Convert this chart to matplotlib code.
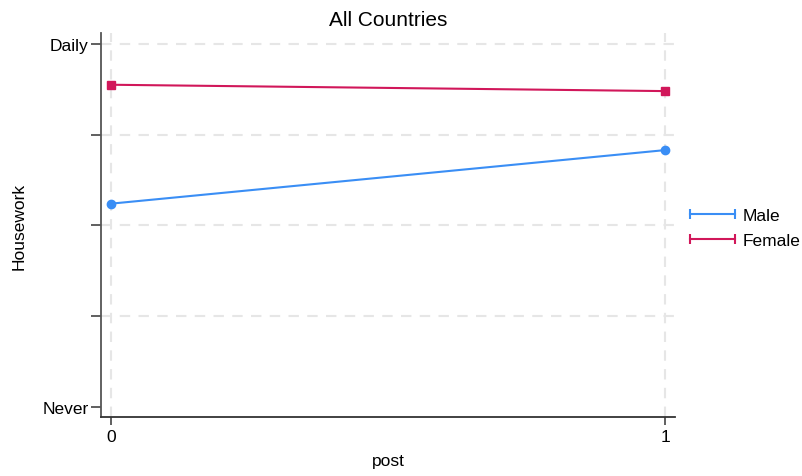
import matplotlib
matplotlib.use("Agg")
import matplotlib.pyplot as plt
from matplotlib.lines import Line2D

plt.rcParams['font.family'] = ['Liberation Sans', 'DejaVu Sans']

post = [0, 1]
male = [3.24, 3.83]
female = [4.55, 4.48]
male_ci = [0.02, 0.02]
female_ci = [0.02, 0.02]
series_names = ["Male", "Female"]
ytick_vals = [1, 2, 3, 4, 5]
ytick_labels = ["Never", "", "", "", "Daily"]
xtick_vals = [0, 1]

c_male = "#3a8ef5"
c_female = "#d1175a"

fig = plt.figure(figsize=(8.03, 4.77), dpi=100)
ax = fig.add_axes([101/803, 1-418/477, (675-101)/803, (418-34)/477])

ax.errorbar(post, male, yerr=male_ci, color=c_male, lw=1.5, marker='o', ms=6,
            capsize=2, elinewidth=1.2, zorder=3)
ax.errorbar(post, female, yerr=female_ci, color=c_female, lw=1.5, marker='s', ms=6,
            capsize=2, elinewidth=1.2, zorder=3)

ax.set_xlim(-0.018, 1.018)
ax.set_ylim(0.89, 5.12)
ax.set_yticks(ytick_vals)
ax.set_yticklabels(ytick_labels, fontsize=12.5)
ax.set_xticks(xtick_vals)
ax.set_xticklabels([str(v) for v in xtick_vals], fontsize=12.5)

for v in ytick_vals[1:]:
    ax.axhline(v, color="#e6e6e6", lw=1.5, ls=(0, (5, 4)), zorder=1)
for v in xtick_vals:
    ax.axvline(v, color="#e6e6e6", lw=1.5, ls=(0, (5, 4)), zorder=1)

for s in ["top", "right"]:
    ax.spines[s].set_visible(False)
ax.spines["left"].set_color("#555555")
ax.spines["bottom"].set_color("#333333")
ax.spines["left"].set_linewidth(1.3)
ax.spines["bottom"].set_linewidth(1.3)
ax.tick_params(axis='y', length=7, width=1.2, color="#444444", pad=2)
ax.tick_params(axis='x', length=6, width=1.2, color="#444444", pad=3)

ax.set_title("All Countries", fontsize=15, pad=6)
ax.set_ylabel("Housework", fontsize=12.5, labelpad=11)
ax.set_xlabel("post", fontsize=12.5, labelpad=6)

handles = [Line2D([], [], color=c, lw=1.5, marker='|', ms=7, mew=1.5)
           for c in (c_male, c_female)]
fig.legend(handles, series_names, loc='center left', bbox_to_anchor=(685/803, 1-229/477),
           frameon=False, fontsize=12.5, numpoints=2, handlelength=3.2,
           handletextpad=0.1, labelspacing=0.6, borderpad=0, borderaxespad=0)

fig.savefig("out.png", dpi=100)
